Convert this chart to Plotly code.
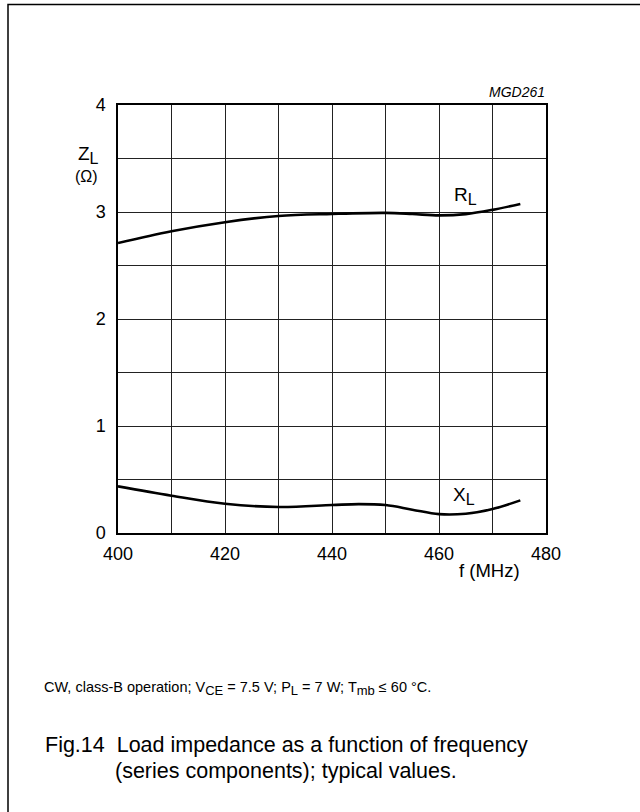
import plotly.graph_objects as go

# ---- data ----
freq_rl = [400, 410, 420, 430, 440, 450, 455, 460, 465, 470, 475.2]
rl = [2.71, 2.82, 2.905, 2.963, 2.982, 2.992, 2.982, 2.968, 2.98, 3.02, 3.075]
freq_xl = [400, 410, 420, 430, 440, 445, 450, 455, 460, 465, 470, 475.2]
xl = [0.436, 0.349, 0.274, 0.243, 0.261, 0.27, 0.261, 0.218, 0.176, 0.18, 0.224, 0.305]

x_tickvals = [400, 410, 420, 430, 440, 450, 460, 470, 480]
x_ticktext = ["400", "", "420", "", "440", "", "460", "", "480"]
y_tickvals = [0, 0.5, 1, 1.5, 2, 2.5, 3, 3.5, 4]
y_ticktext = ["0", "", "1", "", "2", "", "3", "", "4"]

W, H = 640, 812
L, R, T, B = 118, 94, 105, 279
PW, PH = W - L - R, H - T - B


def px(x):
    return (x - L) / PW


def py(y):
    return 1 - (y - T) / PH


FONT = "Liberation Sans, Arial, sans-serif"

fig = go.Figure()
fig.add_trace(go.Scatter(x=freq_rl, y=rl, mode="lines", line=dict(color="black", width=2.6, shape="spline"),
                         showlegend=False, hoverinfo="skip"))
fig.add_trace(go.Scatter(x=freq_xl, y=xl, mode="lines", line=dict(color="black", width=2.6, shape="spline"),
                         showlegend=False, hoverinfo="skip"))

axis_common = dict(showgrid=True, gridcolor="#222", gridwidth=1, zeroline=False,
                   showline=True, linecolor="black", linewidth=1.5, mirror=True,
                   ticks="", tickfont=dict(family=FONT, size=18, color="black"))
fig.update_xaxes(range=[400, 480], tickvals=x_tickvals, ticktext=x_ticktext, ticklabelstandoff=4, **axis_common)
fig.update_yaxes(range=[0, 4], tickvals=y_tickvals, ticktext=y_ticktext, ticklabelstandoff=7, **axis_common)

ann = []


def text(x, y, s, size, xanchor="center", italic=False):
    ann.append(dict(x=px(x), y=py(y), xref="paper", yref="paper", text=s, showarrow=False,
                    xanchor=xanchor, yanchor="middle",
                    font=dict(family=FONT, size=size, color="black",
                              style="italic" if italic else "normal")))


def sub(s, size):
    return "<sub><span style='font-size:%dpx'>%s</span></sub>" % (size, s)


text(547, 92, "MGD261", 14, xanchor="right", italic=True)
text(88, 155, "Z" + sub("L", 16), 19)
text(86, 176, "(Ω)", 16)
text(465, 196, "R" + sub("L", 16), 19)
text(464, 496, "X" + sub("L", 16), 19)
text(489, 570, "f (MHz)", 18.5)
text(42, 688, "CW, class-B operation; V" + sub("CE", 13) + " = 7.5 V; P" + sub("L", 13)
     + " = 7 W; T" + sub("mb", 13) + " ≤ 60 °C.", 14.5, xanchor="left")
text(286, 745, "Fig.14  Load impedance as a function of frequency", 21.5)
text(286, 771, "(series components); typical values.", 21.5)

fig.update_layout(
    width=W, height=H,
    margin=dict(l=L, r=R, t=T, b=B),
    paper_bgcolor="white", plot_bgcolor="white",
    annotations=ann,
    shapes=[dict(type="rect", xref="paper", yref="paper",
                 x0=px(8), x1=px(700), y0=py(900), y1=py(4.5),
                 line=dict(color="black", width=1.5), fillcolor="rgba(0,0,0,0)", layer="below")],
)

fig.write_html("out.html")
